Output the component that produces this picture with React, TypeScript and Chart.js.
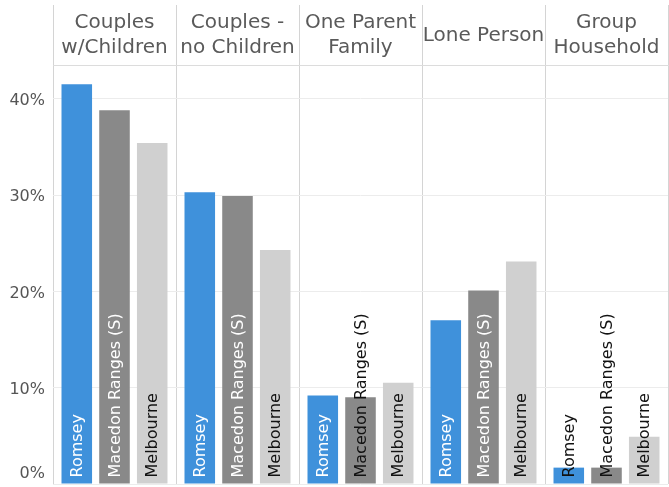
import React, { useEffect, useRef } from "react";
import { Chart, registerables } from "chart.js";

Chart.register(...registerables);

const categories: string[][] = [
  ["Couples", "w/Children"],
  ["Couples -", "no Children"],
  ["One Parent", "Family"],
  ["Lone Person"],
  ["Group", "Household"],
];
const seriesNames = ["Romsey", "Macedon Ranges (S)", "Melbourne"];
const romsey = [41.5, 30.3, 9.2, 17.0, 1.7];
const macedon = [38.8, 29.9, 9.0, 20.1, 1.7];
const melbourne = [35.4, 24.3, 10.5, 23.1, 4.9];
const yTicks = [0, 10, 20, 30, 40];

const colors = ["#3f91db", "#898989", "#d0d0d0"];
const FONT = "'DejaVu Sans', sans-serif";

const headerLines = {
  id: "headerLines",
  afterDraw(chart: any) {
    const { ctx, chartArea } = chart;
    const n = categories.length;
    const w = (chartArea.right - chartArea.left) / n;
    ctx.save();
    ctx.strokeStyle = "#d4d4d4";
    ctx.lineWidth = 1;
    for (let i = 0; i <= n; i++) {
      const px = Math.round(chartArea.left + i * w) + 0.5;
      ctx.beginPath();
      ctx.moveTo(px, 5);
      ctx.lineTo(px, chartArea.top);
      ctx.stroke();
    }
    ctx.restore();
  },
};

const yLabels = {
  id: "yLabels",
  afterDraw(chart: any) {
    const { ctx, chartArea } = chart;
    const y = chart.scales.y;
    ctx.save();
    ctx.font = `16px ${FONT}`;
    ctx.fillStyle = "#555";
    ctx.textAlign = "right";
    ctx.textBaseline = "middle";
    yTicks.forEach((v) => {
      let py = y.getPixelForValue(v);
      if (v === 0) py -= 12;
      ctx.fillText(`${v}%`, chartArea.left - 8, py + 2);
    });
    ctx.restore();
  },
};

const barLabels = {
  id: "barLabels",
  afterDatasetsDraw(chart: any) {
    const { ctx } = chart;
    ctx.save();
    ctx.font = `16px ${FONT}`;
    ctx.textAlign = "left";
    ctx.textBaseline = "middle";
    chart.data.datasets.forEach((ds: any, di: number) => {
      const meta = chart.getDatasetMeta(di);
      meta.data.forEach((bar: any) => {
        const label = ds.label as string;
        const tw = ctx.measureText(label).width;
        const h = bar.base - bar.y;
        const fits = tw + 10 < h;
        ctx.fillStyle = di === 2 ? "#111" : fits ? "#ffffff" : "#111";
        ctx.save();
        ctx.translate(bar.x, bar.base - 6);
        ctx.rotate(-Math.PI / 2);
        ctx.fillText(label, 0, 1);
        ctx.restore();
      });
    });
    ctx.restore();
  },
};

export default function App() {
  const ref = useRef<HTMLCanvasElement | null>(null);
  useEffect(() => {
    document.body.style.margin = "0";
    if (!ref.current) return;
    const chart = new Chart(ref.current, {
      type: "bar",
      data: {
        labels: categories,
        datasets: [romsey, macedon, melbourne].map((d, i) => ({
          label: seriesNames[i],
          data: d,
          backgroundColor: colors[i],
          borderWidth: 0,
          categoryPercentage: 0.92,
          barPercentage: 0.81,
        })),
      },
      options: {
        animation: false,
        responsive: false,
        maintainAspectRatio: false,
        layout: { padding: { top: 0, right: 1, bottom: 3, left: 0 } },
        plugins: { legend: { display: false }, tooltip: { enabled: false } },
        scales: {
          x: {
            position: "top",
            grid: { offset: true, color: "#d4d4d4", drawTicks: false },
            border: { display: true, color: "#dcdcdc" },
            ticks: {
              font: { family: FONT, size: 20, lineHeight: 1.25 },
              color: "#5a5a5a",
              padding: 17,
              crossAlign: "center",
              maxRotation: 0,
              autoSkip: false,
            },
            afterFit: (s: any) => {
              s.height = 65;
              s.paddingLeft = 0;
              s.paddingRight = 0;
            },
          },
          y: {
            min: 0,
            max: 43.5,
            afterBuildTicks: (s: any) => {
              s.ticks = yTicks.map((v) => ({ value: v }));
            },
            ticks: { display: false },
            grid: { color: "#ececec", drawTicks: false },
            border: { display: false },
            afterFit: (s: any) => {
              s.width = 53;
            },
          },
        },
      },
      plugins: [headerLines, yLabels, barLabels],
    });
    return () => chart.destroy();
  }, []);
  return <canvas ref={ref} width={669} height={487} style={{ display: "block" }} />;
}
